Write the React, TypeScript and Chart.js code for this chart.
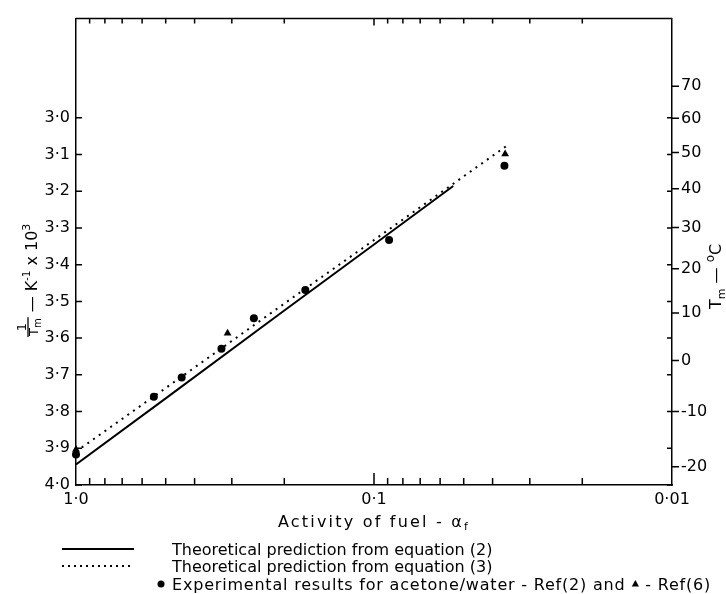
import React, { useEffect, useRef } from 'react';
import { Chart, registerables } from 'chart.js';

Chart.register(...registerables);

const FONT = '"DejaVu Sans", "Liberation Sans", sans-serif';

// Theoretical prediction, equation (2) — solid line
const eq2Activity = [1.0, 0.5, 0.2, 0.1, 0.0542];
const eq2InvT = [3.944, 3.764, 3.525, 3.345, 3.186];

// Theoretical prediction, equation (3) — dotted line
const eq3Activity = [1.0, 0.5, 0.2, 0.1, 0.0361];
const eq3InvT = [3.909, 3.736, 3.506, 3.333, 3.078];

// Experimental results, Ref(2) — circles
const ref2Activity = [1.0, 0.548, 0.442, 0.325, 0.253, 0.17, 0.089, 0.0365];
const ref2InvT = [3.917, 3.76, 3.707, 3.629, 3.546, 3.469, 3.333, 3.131];

// Experimental results, Ref(6) — triangles
const ref6Activity = [1.0, 0.31, 0.0363];
const ref6InvT = [3.903, 3.587, 3.099];

// Axes
const xMajorTicks = [1, 0.1, 0.01];
const xMajorLabels = ['1·0', '0·1', '0·01'];
const xMinorTicks = [0.9, 0.8, 0.7, 0.6, 0.5, 0.4, 0.3, 0.2, 0.09, 0.08, 0.07, 0.06, 0.05, 0.04, 0.03, 0.02];
const invTTicks = [3.0, 3.1, 3.2, 3.3, 3.4, 3.5, 3.6, 3.7, 3.8, 3.9, 4.0];
const invTLabels = ['3·0', '3·1', '3·2', '3·3', '3·4', '3·5', '3·6', '3·7', '3·8', '3·9', '4·0'];
const tempCTicks = [70, 60, 50, 40, 30, 20, 10, 0, -10, -20];
const tempCLabels = ['70', '60', '50', '40', '30', '20', '10', '0', '-10', '-20'];
const Y_MIN = 2.73;
const Y_MAX = 4.0;

const legendLabels = [
  'Theoretical prediction from equation (2)',
  'Theoretical prediction from equation (3)',
  'Experimental results for acetone/water - Ref(2) and ',
  ' - Ref(6)',
];

const toInvT = (c: number) => 1000 / (c + 273.15);

function drawTriangle(ctx: CanvasRenderingContext2D, cx: number, cy: number, r: number) {
  ctx.beginPath();
  ctx.moveTo(cx, cy - r);
  ctx.lineTo(cx + r * 0.9, cy + r * 0.6);
  ctx.lineTo(cx - r * 0.9, cy + r * 0.6);
  ctx.closePath();
  ctx.fill();
}

const decorPlugin = {
  id: 'decor',
  afterDraw(chart: any) {
    const { ctx, chartArea: a, scales } = chart;
    const x = scales.x;
    const y = scales.y;
    ctx.save();
    ctx.strokeStyle = '#000';
    ctx.fillStyle = '#000';
    ctx.lineWidth = 1.5;
    ctx.beginPath();
    ctx.moveTo(a.left, a.top);
    ctx.lineTo(a.right, a.top);
    for (const v of xMinorTicks) {
      const px = x.getPixelForValue(v);
      ctx.moveTo(px, a.bottom);
      ctx.lineTo(px, a.bottom - 7);
      ctx.moveTo(px, a.top);
      ctx.lineTo(px, a.top + 5);
    }
    const p1 = x.getPixelForValue(0.1);
    ctx.moveTo(p1, a.bottom);
    ctx.lineTo(p1, a.bottom - 12);
    ctx.moveTo(p1, a.top);
    ctx.lineTo(p1, a.top + 7);
    for (const v of invTTicks) {
      const py = y.getPixelForValue(v);
      ctx.moveTo(a.left, py);
      ctx.lineTo(a.left + 6, py);
      ctx.moveTo(a.right, py);
      ctx.lineTo(a.right - 5, py);
    }
    for (const c of tempCTicks) {
      const py = y.getPixelForValue(toInvT(c));
      ctx.moveTo(a.right, py);
      ctx.lineTo(a.right + 7, py);
    }
    ctx.stroke();

    // Left axis title: 1/Tm — K^-1 x 10^3 (rotated)
    ctx.save();
    ctx.translate(37, 337);
    ctx.rotate(-Math.PI / 2);
    ctx.textBaseline = 'alphabetic';
    ctx.textAlign = 'left';
    ctx.font = `13px ${FONT}`;
    const w1 = ctx.measureText('1').width;
    const wT = ctx.measureText('T').width;
    ctx.font = `10px ${FONT}`;
    const wm = ctx.measureText('m').width;
    const fw = Math.max(w1, wT + wm) + 2;
    ctx.font = `13px ${FONT}`;
    ctx.fillText('1', (fw - w1) / 2, -11);
    ctx.fillText('T', 1, 1);
    ctx.font = `10px ${FONT}`;
    ctx.fillText('m', 1 + wT, 4);
    ctx.lineWidth = 1.3;
    ctx.beginPath();
    ctx.moveTo(0, -9);
    ctx.lineTo(fw, -9);
    ctx.stroke();
    let u = fw;
    ctx.font = `16px ${FONT}`;
    const s1 = ' — K';
    ctx.fillText(s1, u, 0);
    u += ctx.measureText(s1).width;
    ctx.font = `10px ${FONT}`;
    ctx.fillText('-1', u, -7);
    u += ctx.measureText('-1').width;
    ctx.font = `16px ${FONT}`;
    const s2 = ' x 10';
    ctx.fillText(s2, u, 0);
    u += ctx.measureText(s2).width;
    ctx.font = `11px ${FONT}`;
    ctx.fillText('3', u, -7);
    ctx.restore();

    // Right axis title: Tm — °C (rotated)
    ctx.save();
    ctx.translate(721, 309);
    ctx.rotate(-Math.PI / 2);
    ctx.textBaseline = 'alphabetic';
    ctx.textAlign = 'left';
    ctx.font = `16px ${FONT}`;
    ctx.fillText('T', 0, 0);
    let r = ctx.measureText('T').width;
    ctx.font = `11px ${FONT}`;
    ctx.fillText('m', r, 4);
    r += ctx.measureText('m').width;
    ctx.font = `16px ${FONT}`;
    ctx.fillText(' — ', r, 0);
    r += ctx.measureText(' — ').width;
    ctx.font = `12px ${FONT}`;
    ctx.fillText('o', r, -7);
    r += ctx.measureText('o').width;
    ctx.font = `16px ${FONT}`;
    ctx.fillText('C', r, 0);
    ctx.restore();

    // Bottom axis title
    ctx.textBaseline = 'alphabetic';
    ctx.textAlign = 'left';
    (ctx as any).letterSpacing = '2.2px';
    ctx.font = `16px ${FONT}`;
    const main = 'Activity of fuel - α';
    const wMain = ctx.measureText(main).width;
    ctx.font = `11px ${FONT}`;
    const wf = ctx.measureText('f').width;
    const cx = x.getPixelForValue(0.1);
    const sx = cx - (wMain + wf) / 2;
    ctx.font = `16px ${FONT}`;
    ctx.fillText(main, sx, 527);
    ctx.font = `11px ${FONT}`;
    ctx.fillText('f', sx + wMain, 530);
    (ctx as any).letterSpacing = '0px';

    // Legend
    ctx.font = `16px ${FONT}`;
    ctx.lineWidth = 2;
    ctx.beginPath();
    ctx.setLineDash([]);
    ctx.moveTo(62, 549);
    ctx.lineTo(134, 549);
    ctx.stroke();
    ctx.fillText(legendLabels[0], 172, 555);
    ctx.beginPath();
    ctx.setLineDash([2, 4]);
    ctx.moveTo(62, 566);
    ctx.lineTo(134, 566);
    ctx.stroke();
    ctx.setLineDash([]);
    ctx.fillText(legendLabels[1], 172, 572);
    ctx.beginPath();
    ctx.arc(161, 584, 3.5, 0, Math.PI * 2);
    ctx.fill();
    (ctx as any).letterSpacing = '0.8px';
    ctx.fillText(legendLabels[2], 172, 590);
    const wl = ctx.measureText(legendLabels[2]).width;
    drawTriangle(ctx, 172 + wl + 4, 584, 4);
    ctx.fillText(legendLabels[3], 172 + wl + 8, 590);
    (ctx as any).letterSpacing = '0px';
    ctx.restore();
  },
};

export default function App() {
  const canvasRef = useRef<HTMLCanvasElement | null>(null);

  useEffect(() => {
    const canvas = canvasRef.current;
    if (!canvas) return;
    const tickFont = { family: FONT, size: 16 };
    const chart = new Chart(canvas, {
      type: 'scatter',
      data: {
        datasets: [
          {
            label: 'Ref(2)',
            data: ref2Activity.map((x, i) => ({ x, y: ref2InvT[i] })),
            pointStyle: 'circle',
            pointRadius: 4,
            backgroundColor: '#000',
            borderColor: '#000',
            borderWidth: 0,
            showLine: false,
            clip: false as any,
          },
          {
            label: 'Ref(6)',
            data: ref6Activity.map((x, i) => ({ x, y: ref6InvT[i] })),
            pointStyle: 'triangle',
            pointRadius: 4.5,
            backgroundColor: '#000',
            borderColor: '#000',
            borderWidth: 0,
            showLine: false,
            clip: false as any,
          },
          {
            label: 'Equation (3)',
            data: eq3Activity.map((x, i) => ({ x, y: eq3InvT[i] })),
            showLine: true,
            pointRadius: 0,
            borderColor: '#000',
            borderWidth: 2,
            borderDash: [2, 5],
            backgroundColor: '#000',
          },
          {
            label: 'Equation (2)',
            data: eq2Activity.map((x, i) => ({ x, y: eq2InvT[i] })),
            showLine: true,
            pointRadius: 0,
            borderColor: '#000',
            borderWidth: 2,
            backgroundColor: '#000',
          },
        ],
      },
      options: {
        responsive: false,
        animation: false,
        layout: { padding: { top: 13, bottom: 79, left: 0, right: 0 } },
        plugins: { legend: { display: false }, tooltip: { enabled: false } },
        scales: {
          x: {
            type: 'logarithmic',
            position: 'bottom',
            min: 0.01,
            max: 1,
            reverse: true,
            grid: { display: false, drawTicks: false },
            border: { display: true, color: '#000', width: 1.5 },
            ticks: {
              font: tickFont,
              color: '#000',
              padding: 5,
              autoSkip: false,
              maxRotation: 0,
              callback: (_v: any, i: number) => xMajorLabels[i],
            },
            afterBuildTicks: (s: any) => {
              s.ticks = xMajorTicks.map((value) => ({ value }));
            },
            afterFit: (s: any) => {
              s.height = 30;
            },
          },
          y: {
            type: 'linear',
            position: 'left',
            min: Y_MIN,
            max: Y_MAX,
            reverse: true,
            grid: { display: false, drawTicks: false },
            border: { display: true, color: '#000', width: 1.5 },
            ticks: {
              font: tickFont,
              color: '#000',
              padding: 6,
              autoSkip: false,
              callback: (_v: any, i: number) => invTLabels[i],
            },
            afterBuildTicks: (s: any) => {
              s.ticks = invTTicks.map((value) => ({ value }));
            },
            afterFit: (s: any) => {
              s.width = 76;
            },
          },
          y2: {
            type: 'linear',
            position: 'right',
            min: Y_MIN,
            max: Y_MAX,
            reverse: true,
            grid: { display: false, drawTicks: false },
            border: { display: true, color: '#000', width: 1.5 },
            ticks: {
              font: tickFont,
              color: '#000',
              padding: 9,
              autoSkip: false,
              callback: (_v: any, i: number) => tempCLabels[i],
            },
            afterBuildTicks: (s: any) => {
              s.ticks = tempCTicks.map((c) => ({ value: toInvT(c) }));
            },
            afterFit: (s: any) => {
              s.width = 54;
            },
          },
        },
      } as any,
      plugins: [decorPlugin],
    });
    return () => chart.destroy();
  }, []);

  return (
    <div style={{ position: 'fixed', left: 0, top: 0, width: 726, height: 594, background: '#fff' }}>
      <canvas ref={canvasRef} width={726} height={594} style={{ display: 'block', width: 726, height: 594 }} />
    </div>
  );
}
